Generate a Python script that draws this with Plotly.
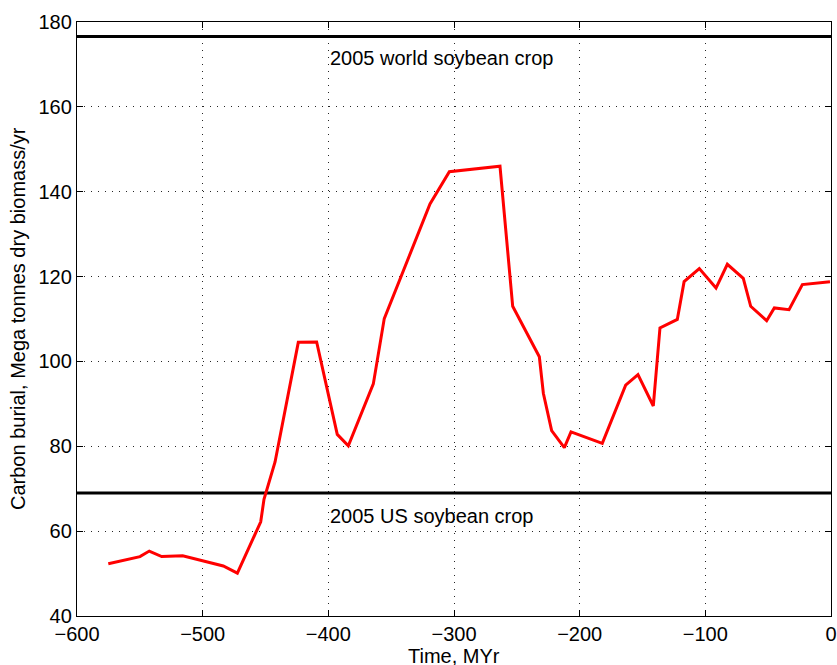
import plotly.graph_objects as go

# Carbon burial through the Phanerozoic (time in MYr, burial in Mt dry biomass / yr)
time_myr = [-575.1, -561.8, -549.9, -542.5, -532.6, -515.9, -499.5, -483.6, -472.4,
            -453.8, -451.2, -442.4, -423.9, -409.3, -392.9, -384.1, -364.2, -355.5,
            -319.1, -303.7, -263.4, -253.3, -232.1, -228.9, -222.3, -212.2, -206.9,
            -182.0, -163.4, -153.6, -141.4, -136.1, -122.3, -116.9, -104.8, -91.5,
            -82.5, -69.8, -63.9, -51.2, -45.1, -33.4, -22.8, -0.8]
carbon_burial = [52.3, 53.2, 54.0, 55.3, 54.0, 54.2, 52.9, 51.8, 50.1,
                 62.2, 67.5, 76.3, 104.5, 104.6, 82.8, 80.1, 94.7, 110.1,
                 137.1, 144.7, 146.0, 113.0, 101.1, 92.5, 83.7, 79.7, 83.4,
                 80.7, 94.4, 96.9, 89.5, 107.9, 109.9, 118.8, 121.9, 117.3,
                 122.9, 119.6, 113.0, 109.6, 112.6, 112.2, 118.1, 118.8]

# Reference levels
world_soy_2005 = 176.6
us_soy_2005 = 69.0
ref_labels = ["2005 world soybean crop", "2005 US soybean crop"]
label_x = -400
label_y = [171.4, 63.6]

x_ticks = [-600, -500, -400, -300, -200, -100, 0]
y_ticks = [40, 60, 80, 100, 120, 140, 160, 180]

FONT = "Liberation Sans, Arial, Helvetica, sans-serif"
FS = 20

fig = go.Figure()

for level in (world_soy_2005, us_soy_2005):
    fig.add_trace(go.Scatter(x=[-600, 0], y=[level, level], mode="lines",
                             line=dict(color="black", width=3), hoverinfo="skip",
                             showlegend=False))

fig.add_trace(go.Scatter(x=time_myr, y=carbon_burial, mode="lines",
                         line=dict(color="#ff0000", width=3), showlegend=False))

for txt, yy in zip(ref_labels, label_y):
    fig.add_annotation(x=label_x, y=yy, text=txt, showarrow=False,
                       xanchor="left", yanchor="middle",
                       font=dict(family=FONT, size=FS, color="black"))

axis_common = dict(
    showline=True, linecolor="black", linewidth=1.3, mirror="ticks",
    ticks="inside", ticklen=6, tickwidth=1, tickcolor="black",
    showgrid=True, gridcolor="rgba(0,0,0,0.85)", gridwidth=1, griddash="1px,6px",
    zeroline=False, automargin=False,
    tickfont=dict(family=FONT, size=FS, color="black"),
)

fig.update_xaxes(range=[-600, 0], tickvals=x_ticks, **axis_common)
fig.update_yaxes(range=[40, 180], tickvals=y_ticks, **axis_common)

# Axis titles placed in paper coordinates so the plot area stays fixed
fig.add_annotation(xref="paper", yref="paper", x=0.5, y=0, yshift=-53,
                   text="Time, MYr", showarrow=False, xanchor="center", yanchor="bottom",
                   font=dict(family=FONT, size=FS, color="black"))
fig.add_annotation(xref="paper", yref="paper", x=0, y=0.5, xshift=-59,
                   text="Carbon burial, Mega tonnes dry biomass/yr", textangle=-90,
                   showarrow=False, xanchor="center", yanchor="middle",
                   font=dict(family=FONT, size=FS, color="black"))

fig.update_layout(
    width=837, height=665,
    margin=dict(l=77, r=6, t=22, b=49),
    plot_bgcolor="white", paper_bgcolor="white",
    font=dict(family=FONT, color="black"),
)

fig.write_html("out.html")
